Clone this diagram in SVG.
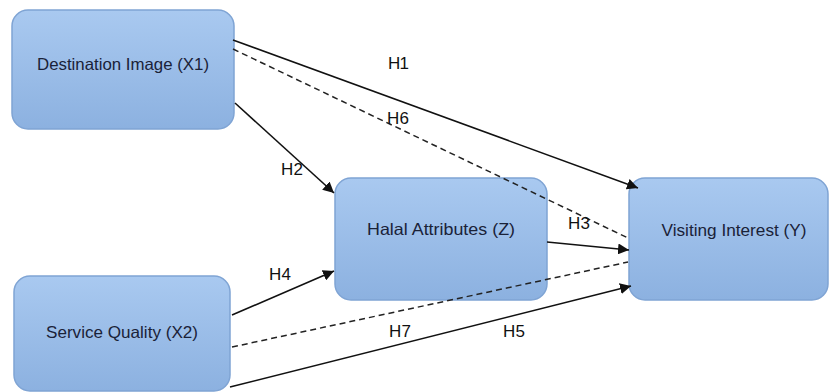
<svg xmlns="http://www.w3.org/2000/svg" width="830" height="392" viewBox="0 0 830 392">
<defs>
<linearGradient id="g" x1="0" y1="0" x2="0" y2="1">
<stop offset="0" stop-color="#a9c9f0"/>
<stop offset="1" stop-color="#8cb1e0"/>
</linearGradient>
<marker id="a" viewBox="0 0 10 10" refX="10" refY="5" markerWidth="11" markerHeight="11" markerUnits="userSpaceOnUse" orient="auto">
<path d="M0,0 L10,5 L0,10 z" fill="#111"/>
</marker>
</defs>
<style>
.box{fill:url(#g);stroke:#7fa4d4;stroke-width:1.5}
.t{font-family:"Liberation Sans",Arial,sans-serif;font-size:16.5px;fill:#1a2238;text-anchor:middle}
.l{font-family:"Liberation Sans",Arial,sans-serif;font-size:17px;fill:#111}
.s{stroke:#111;stroke-width:1.6;fill:none}
.d{stroke:#222;stroke-width:1.5;fill:none;stroke-dasharray:6,4}
</style>
<rect width="830" height="392" fill="#fff"/>
<g id="n1"><rect class="box" x="12" y="10" width="222" height="119" rx="16"/><text class="t" x="123" y="70" textLength="172" lengthAdjust="spacingAndGlyphs">Destination Image (X1)</text></g>
<g id="n2"><rect class="box" x="14" y="276" width="216" height="115" rx="16"/><text class="t" x="122" y="338" textLength="152" lengthAdjust="spacingAndGlyphs">Service Quality (X2)</text></g>
<g id="n3"><rect class="box" x="335" y="178" width="212" height="122" rx="16"/><text class="t" x="441" y="235" textLength="148" lengthAdjust="spacingAndGlyphs">Halal Attributes (Z)</text></g>
<g id="n4"><rect class="box" x="629" y="178" width="199" height="122" rx="16"/><text class="t" x="734" y="236" textLength="145" lengthAdjust="spacingAndGlyphs">Visiting Interest (Y)</text></g>
<g id="edges">
<line class="s" x1="233" y1="40" x2="638" y2="188" marker-end="url(#a)"/>
<line class="d" x1="233" y1="49" x2="628" y2="238"/>
<line class="s" x1="235" y1="103" x2="334" y2="193" marker-end="url(#a)"/>
<line class="s" x1="547" y1="242" x2="629" y2="250" marker-end="url(#a)"/>
<line class="s" x1="232" y1="315" x2="334" y2="271" marker-end="url(#a)"/>
<line class="d" x1="232" y1="347" x2="628" y2="262"/>
<line class="s" x1="230" y1="387" x2="631" y2="286" marker-end="url(#a)"/>
</g>
<g id="labels">
<text class="l" x="388" y="69" textLength="21">H1</text>
<text class="l" x="387" y="124" textLength="22">H6</text>
<text class="l" x="281" y="175" textLength="22">H2</text>
<text class="l" x="568" y="229" textLength="22">H3</text>
<text class="l" x="269" y="280" textLength="22">H4</text>
<text class="l" x="389" y="337" textLength="22">H7</text>
<text class="l" x="503" y="337" textLength="22">H5</text>
</g>
</svg>
